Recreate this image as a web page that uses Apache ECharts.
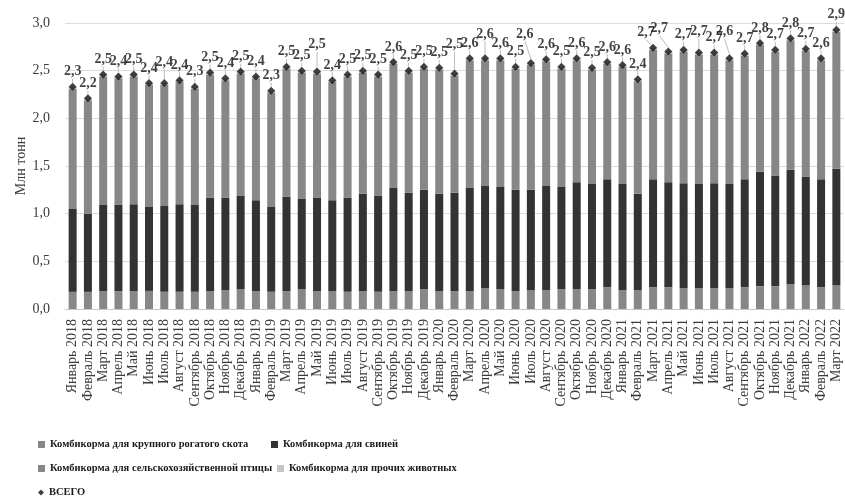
<!DOCTYPE html>
<html>
<head>
<meta charset="utf-8">
<script src="https://cdn.jsdelivr.net/npm/echarts@6/dist/echarts.min.js"></script>
<style>
  html, body { margin: 0; padding: 0; background: #ffffff; }
  #chart { width: 845px; height: 501px; }
</style>
</head>
<body>
<div id="chart"></div>
<script>
// Monthly compound feed output, million tonnes
const months = [
  'Январь 2018', 'Февраль 2018', 'Март 2018', 'Апрель 2018', 'Май 2018', 'Июнь 2018',
  'Июль 2018', 'Август 2018', 'Сентябрь 2018', 'Октябрь 2018', 'Ноябрь 2018', 'Декабрь 2018',
  'Январь 2019', 'Февраль 2019', 'Март 2019', 'Апрель 2019', 'Май 2019', 'Июнь 2019',
  'Июль 2019', 'Август 2019', 'Сентябрь 2019', 'Октябрь 2019', 'Ноябрь 2019', 'Декабрь 2019',
  'Январь 2020', 'Февраль 2020', 'Март 2020', 'Апрель 2020', 'Май 2020', 'Июнь 2020',
  'Июль 2020', 'Август 2020', 'Сентябрь 2020', 'Октябрь 2020', 'Ноябрь 2020', 'Декабрь 2020',
  'Январь 2021', 'Февраль 2021', 'Март 2021', 'Апрель 2021', 'Май 2021', 'Июнь 2021',
  'Июль 2021', 'Август 2021', 'Сентябрь 2021', 'Октябрь 2021', 'Ноябрь 2021', 'Декабрь 2021',
  'Январь 2022', 'Февраль 2022', 'Март 2022'
];

const cattle = [
  0.18, 0.18, 0.19, 0.19, 0.19, 0.19, 0.18, 0.18, 0.18, 0.19, 0.20, 0.21,
  0.19, 0.18, 0.19, 0.21, 0.19, 0.19, 0.18, 0.19, 0.18, 0.19, 0.19, 0.21,
  0.19, 0.19, 0.19, 0.22, 0.21, 0.19, 0.20, 0.20, 0.21, 0.21, 0.21, 0.23,
  0.20, 0.20, 0.23, 0.23, 0.22, 0.22, 0.22, 0.22, 0.23, 0.24, 0.24, 0.26,
  0.25, 0.23, 0.25
];

const pigs = [
  0.87, 0.82, 0.90, 0.90, 0.91, 0.88, 0.90, 0.92, 0.91, 0.98, 0.97, 0.98,
  0.95, 0.89, 0.99, 0.95, 0.98, 0.95, 0.99, 1.02, 1.01, 1.08, 1.03, 1.04,
  1.02, 1.03, 1.08, 1.07, 1.07, 1.06, 1.05, 1.09, 1.07, 1.12, 1.10, 1.13,
  1.11, 1.01, 1.13, 1.10, 1.10, 1.09, 1.10, 1.09, 1.13, 1.20, 1.16, 1.20,
  1.14, 1.13, 1.22
];

const poultry = [
  1.26, 1.19, 1.35, 1.33, 1.34, 1.28, 1.27, 1.28, 1.22, 1.29, 1.23, 1.28,
  1.28, 1.20, 1.34, 1.32, 1.30, 1.24, 1.27, 1.27, 1.25, 1.30, 1.26, 1.27,
  1.30, 1.23, 1.34, 1.32, 1.33, 1.27, 1.31, 1.31, 1.24, 1.28, 1.20, 1.21,
  1.23, 1.18, 1.36, 1.35, 1.38, 1.36, 1.35, 1.30, 1.30, 1.33, 1.30, 1.36,
  1.32, 1.25, 1.44
];

const other = [
  0.02, 0.02, 0.02, 0.02, 0.02, 0.02, 0.02, 0.02, 0.02, 0.02, 0.02, 0.02,
  0.02, 0.02, 0.02, 0.02, 0.02, 0.02, 0.02, 0.02, 0.02, 0.02, 0.02, 0.02,
  0.02, 0.02, 0.02, 0.02, 0.02, 0.02, 0.02, 0.02, 0.02, 0.02, 0.02, 0.02,
  0.02, 0.02, 0.02, 0.02, 0.02, 0.02, 0.02, 0.02, 0.02, 0.02, 0.02, 0.02,
  0.02, 0.02, 0.02
];

const yTicks = ['0,0', '0,5', '1,0', '1,5', '2,0', '2,5', '3,0'];

const names = {
  cattle: 'Комбикорма для крупного рогатого скота',
  pigs: 'Комбикорма для свиней',
  poultry: 'Комбикорма для сельскохозяйственной птицы',
  other: 'Комбикорма для прочих животных',
  total: 'ВСЕГО'
};

// Totals are the sum of the four kinds of feed
const total = months.map((_, i) =>
  Math.round((cattle[i] + pigs[i] + poultry[i] + other[i]) * 100) / 100);

// Labels nudged (with a leader line when raised) where they would crowd neighbours
const raisedLabels = { 6: [0, -6], 16: [0, -12], 25: [0, -14], 27: [0, -9], 30: [-6, -14], 38: [-7, 0], 39: [-9, -8], 41: [0, -6], 43: [-5, -12] };

const serif = '"Liberation Serif", "DejaVu Serif", serif';
const colors = { cattle: '#878787', pigs: '#333333', poultry: '#878787', other: '#c6c6c6' };

const chart = echarts.init(document.getElementById('chart'), null, { renderer: 'canvas' });

function bar(key, data) {
  return {
    name: names[key], type: 'bar', stack: 'feed', data: data,
    barWidth: 8,
    itemStyle: { color: colors[key] },
    emphasis: { disabled: true }
  };
}

function legendAt(name, left, top, icon, size) {
  return {
    data: [name], left: left, top: top, icon: icon,
    itemWidth: size, itemHeight: size,
    selectedMode: false,
    textStyle: { fontFamily: serif, fontWeight: 'bold', fontSize: 10.5, color: '#1a1a1a' }
  };
}

chart.setOption({
  animation: false,
  backgroundColor: '#ffffff',
  grid: { left: 65, right: 1, top: 23, bottom: 192 },
  legend: [
    legendAt(names.cattle, 33, 434, 'rect', 7),
    legendAt(names.pigs, 266, 434, 'rect', 7),
    legendAt(names.poultry, 33, 458, 'rect', 7),
    legendAt(names.other, 272, 458, 'rect', 7),
    legendAt(names.total, 33, 482, 'diamond', 6)
  ],
  xAxis: {
    type: 'category', data: months,
    axisLine: { lineStyle: { color: '#c8c8c8' } },
    axisTick: { show: false },
    axisLabel: { interval: 0, rotate: 90, margin: 10, fontFamily: serif, fontSize: 14, color: '#3a3a3a' }
  },
  yAxis: {
    type: 'value', min: 0, max: 3, interval: 0.5,
    name: 'Млн тонн', nameLocation: 'middle', nameGap: 37, nameRotate: 90,
    nameMoveOverlap: false,
    nameTextStyle: { fontFamily: serif, fontSize: 14, color: '#3a3a3a' },
    axisLine: { show: false }, axisTick: { show: false },
    axisLabel: {
      margin: 15, fontFamily: serif, fontSize: 14, color: '#3a3a3a',
      formatter: v => yTicks[Math.round(v / 0.5)]
    },
    splitLine: { lineStyle: { color: '#dcdcdc', width: 1 } }
  },
  series: [
    bar('cattle', cattle),
    bar('pigs', pigs),
    bar('poultry', poultry),
    bar('other', other),
    {
      name: names.total, type: 'scatter', data: total,
      symbol: 'diamond', symbolSize: 8,
      itemStyle: { color: '#111111' },
      z: 5,
      label: {
        show: true, position: 'top', distance: 4,
        fontFamily: serif, fontWeight: 'bold', fontSize: 14, color: '#111111',
        formatter: p => p.value.toFixed(1).replace('.', ',')
      },
      labelLine: { show: true, lineStyle: { color: '#bdbdbd', width: 1 } },
      labelLayout: p => {
        const s = raisedLabels[p.dataIndex];
        return s ? { dx: s[0], dy: s[1] } : {};
      },
      emphasis: { disabled: true }
    }
  ]
});
</script>
</body>
</html>
